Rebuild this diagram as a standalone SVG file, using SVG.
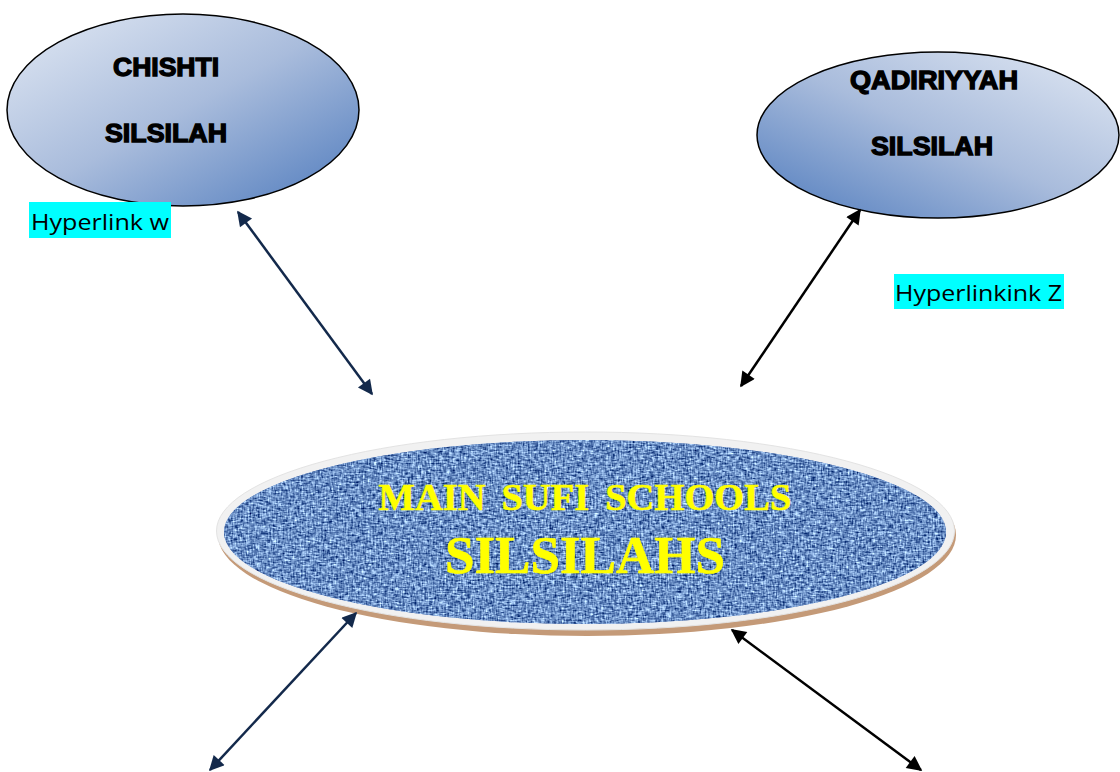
<svg xmlns="http://www.w3.org/2000/svg" width="1120" height="772" viewBox="0 0 1120 772">
<style>
.lbl{font-family:"Liberation Sans",Arial,sans-serif;font-weight:bold;font-size:25px;fill:#000;stroke:#000;stroke-width:1.3;text-anchor:middle}
.hl{font-family:"Open Sans","Liberation Sans",sans-serif;font-size:21px;fill:#000}
.main{font-family:"Liberation Serif","Times New Roman",serif;font-weight:bold;fill:#ffff00;stroke:#ffff00;stroke-width:0.6;text-anchor:middle}
.cn{stroke-width:2.5;fill:none}
.navy{stroke:#13294b}
.blk{stroke:#000}
</style>
<defs>
<linearGradient id="gL" x1="0" y1="0" x2="1" y2="1">
<stop offset="0" stop-color="#e2e9f4"/>
<stop offset="0.5" stop-color="#a9bcdc"/>
<stop offset="1" stop-color="#4f7bbd"/>
</linearGradient>
<linearGradient id="gR" x1="1" y1="0" x2="0" y2="1">
<stop offset="0" stop-color="#e2e9f4"/>
<stop offset="0.5" stop-color="#a9bcdc"/>
<stop offset="1" stop-color="#4f7bbd"/>
</linearGradient>
<filter id="weave" x="0" y="0" width="100%" height="100%" filterUnits="objectBoundingBox" color-interpolation-filters="sRGB">
<feTurbulence type="fractalNoise" baseFrequency="0.18 0.6" numOctaves="2" seed="7" result="n1"/>
<feTurbulence type="fractalNoise" baseFrequency="0.6 0.16" numOctaves="2" seed="3" result="n2"/>
<feComposite in="n1" in2="n2" operator="arithmetic" k2="0.55" k3="0.45" result="n"/>
<feColorMatrix in="n" type="matrix" values="1.7 0 0 0 -0.43  1.7 0 0 0 -0.29  1.4 0 0 0 0.07  0 0 0 0 1"/>
</filter>
<clipPath id="inner"><ellipse cx="585" cy="532" rx="361" ry="92"/></clipPath>
<marker id="aN" viewBox="0 0 10 10" refX="9" refY="5" markerWidth="7" markerHeight="6" orient="auto-start-reverse" markerUnits="strokeWidth">
<path d="M0,0 L10,5 L0,10 z" fill="#13294b"/>
</marker>
<marker id="aB" viewBox="0 0 10 10" refX="9" refY="5" markerWidth="7" markerHeight="6" orient="auto-start-reverse" markerUnits="strokeWidth">
<path d="M0,0 L10,5 L0,10 z" fill="#000"/>
</marker>
</defs>
<rect width="1120" height="772" fill="#fff"/>

<g id="chishti">
<ellipse cx="183" cy="110" rx="176" ry="96" fill="url(#gL)" stroke="#000" stroke-width="1.5"/>
<text class="lbl" x="166" y="76" textLength="106" lengthAdjust="spacingAndGlyphs">CHISHTI</text>
<text class="lbl" x="166" y="142" textLength="122" lengthAdjust="spacingAndGlyphs">SILSILAH</text>
</g>

<g id="hyperlink-w">
<rect x="29" y="202" width="142" height="36" fill="#00ffff"/>
<text class="hl" x="31" y="230" textLength="138" lengthAdjust="spacingAndGlyphs">Hyperlink w</text>
</g>

<g id="qadiriyyah">
<ellipse cx="938" cy="135" rx="181" ry="83" fill="url(#gR)" stroke="#000" stroke-width="1.5"/>
<text class="lbl" x="934" y="89" textLength="168" lengthAdjust="spacingAndGlyphs">QADIRIYYAH</text>
<text class="lbl" x="932" y="155" textLength="122" lengthAdjust="spacingAndGlyphs">SILSILAH</text>
</g>

<g id="hyperlink-z">
<rect x="894" y="274" width="170" height="35" fill="#00ffff"/>
<text class="hl" x="895" y="301" textLength="167" lengthAdjust="spacingAndGlyphs">Hyperlinkink Z</text>
</g>

<g id="main">
<ellipse cx="587" cy="535" rx="369" ry="101" fill="#c49a78"/>
<ellipse cx="585.5" cy="531" rx="369" ry="99" fill="#f1f1f1" stroke="#e3e3e3" stroke-width="1"/>
<ellipse cx="585" cy="532" rx="361" ry="92" fill="#5f84c2"/>
<rect x="224" y="440" width="722" height="184" filter="url(#weave)" clip-path="url(#inner)"/>
<text class="main" x="585" y="510" font-size="37" word-spacing="6" textLength="413" lengthAdjust="spacingAndGlyphs">MAIN SUFI SCHOOLS</text>
<text class="main" x="585" y="573" font-size="52" textLength="280" lengthAdjust="spacingAndGlyphs">SILSILAHS</text>
</g>

<g id="connectors">
<line class="cn navy" x1="238" y1="212" x2="372" y2="394" marker-start="url(#aN)" marker-end="url(#aN)"/>
<line class="cn blk" x1="860" y1="210" x2="741" y2="386" marker-start="url(#aB)" marker-end="url(#aB)"/>
<line class="cn navy" x1="356" y1="613" x2="210" y2="770" marker-start="url(#aN)" marker-end="url(#aN)"/>
<line class="cn blk" x1="732" y1="630" x2="921" y2="770" marker-start="url(#aB)" marker-end="url(#aB)"/>
</g>
</svg>
